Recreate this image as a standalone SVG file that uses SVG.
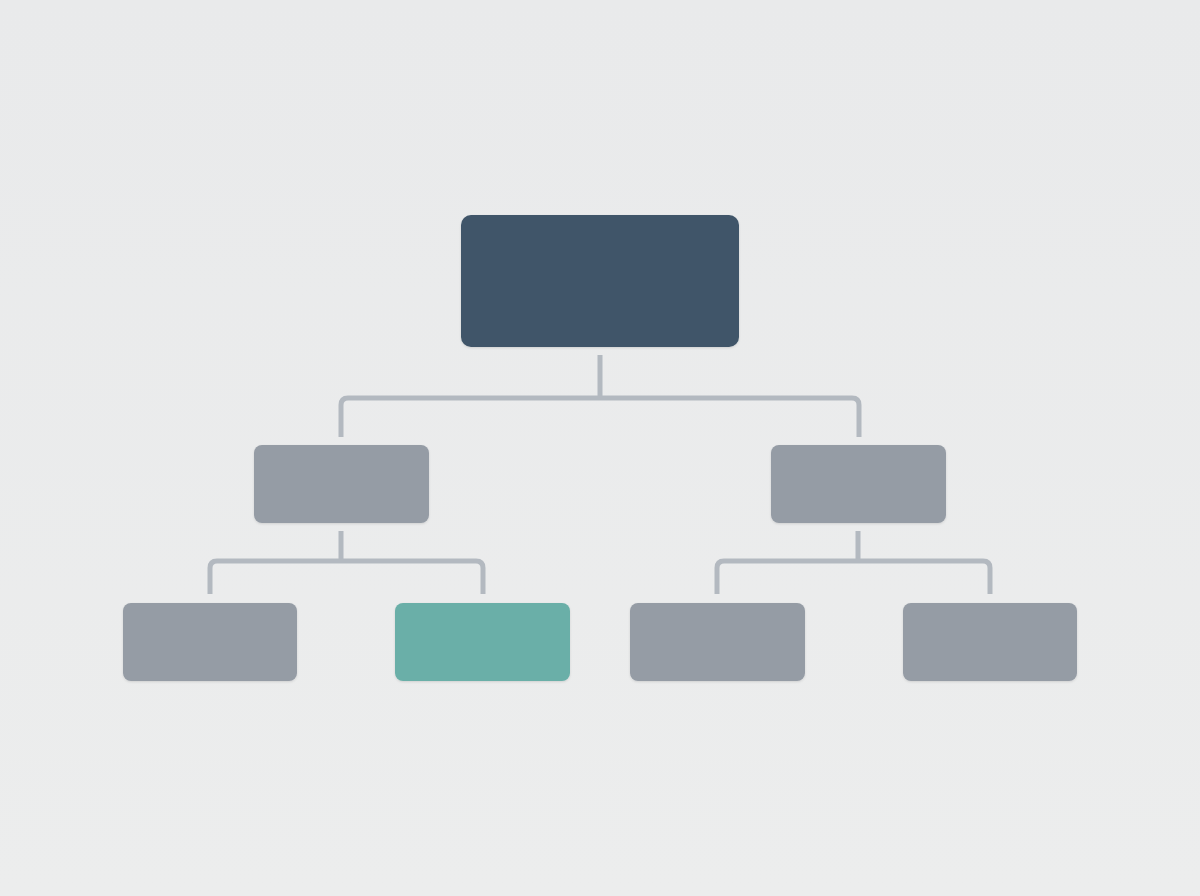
<svg xmlns="http://www.w3.org/2000/svg" width="1200" height="896" viewBox="0 0 1200 896">
  <defs>
    <linearGradient id="bg" x1="0" y1="0" x2="0" y2="1">
      <stop offset="0" stop-color="#e9eaeb"/>
      <stop offset="1" stop-color="#eceded"/>
    </linearGradient>
    <filter id="sh" x="-10%" y="-10%" width="120%" height="130%">
      <feDropShadow dx="0" dy="1" stdDeviation="1.2" flood-color="#000" flood-opacity="0.12"/>
    </filter>
  </defs>
  <style>
    .root { fill: #3f5569; }
    .mid { fill: #959ca5; }
    .leaf { fill: #959ca5; }
    .hl { fill: #6aafa8; }
    .conn { fill: none; stroke: #b3b9c0; stroke-width: 5; stroke-linejoin: round; }
  </style>
  <rect width="1200" height="896" fill="url(#bg)"/>
  <g id="connectors">
    <path class="conn" d="M600 355 V398"/>
    <path class="conn" d="M341 437 V405 Q341 398 348 398 H852 Q859 398 859 405 V437"/>
    <path class="conn" d="M341 531 V561"/>
    <path class="conn" d="M210 594 V568 Q210 561 217 561 H476 Q483 561 483 568 V594"/>
    <path class="conn" d="M858 531 V561"/>
    <path class="conn" d="M717 594 V568 Q717 561 724 561 H983 Q990 561 990 568 V594"/>
  </g>
  <g id="root" filter="url(#sh)"><rect class="root" x="461" y="215" width="278" height="132" rx="10"/></g>
  <g id="mid-left" filter="url(#sh)"><rect class="mid" x="254" y="445" width="175" height="78" rx="8"/></g>
  <g id="mid-right" filter="url(#sh)"><rect class="mid" x="771" y="445" width="175" height="78" rx="8"/></g>
  <g id="leaf-1" filter="url(#sh)"><rect class="leaf" x="123" y="603" width="174" height="78" rx="8"/></g>
  <g id="leaf-2" filter="url(#sh)"><rect class="hl" x="395" y="603" width="175" height="78" rx="8"/></g>
  <g id="leaf-3" filter="url(#sh)"><rect class="leaf" x="630" y="603" width="175" height="78" rx="8"/></g>
  <g id="leaf-4" filter="url(#sh)"><rect class="leaf" x="903" y="603" width="174" height="78" rx="8"/></g>
</svg>
